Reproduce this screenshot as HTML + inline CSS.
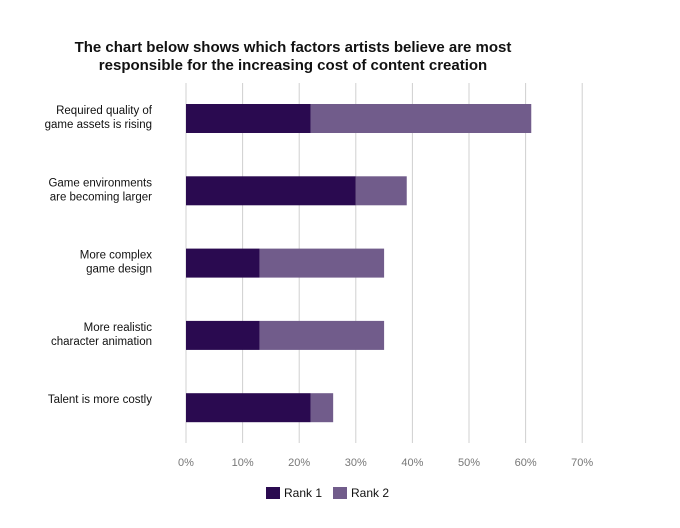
<!DOCTYPE html>
<html><head><meta charset="utf-8"><style>
body{margin:0;background:#fff;width:680px;height:523px;overflow:hidden;font-family:"Liberation Sans",sans-serif;}
svg text{font-family:"Liberation Sans",sans-serif;}
</style></head><body>
<svg width="680" height="523">
<text x="293" y="52" text-anchor="middle" font-size="15" font-weight="bold" fill="#111">The chart below shows which factors artists believe are most</text>
<text x="293" y="70" text-anchor="middle" font-size="15" font-weight="bold" fill="#111">responsible for the increasing cost of content creation</text>
<g id="grid"></g><g id="bars"></g><g id="labels"></g><g id="ticks"></g>
<rect x="266" y="487" width="14" height="12" fill="#2a0a50"/>
<text x="284" y="497" font-size="12" fill="#111">Rank 1</text>
<rect x="333" y="487" width="14" height="12" fill="#715c8b"/>
<text x="351" y="497" font-size="12" fill="#111">Rank 2</text>
</svg>
<script>
const categories=[["Required quality of","game assets is rising"],["Game environments","are becoming larger"],["More complex","game design"],["More realistic","character animation"],["Talent is more costly"]];
const rank1=[22,30,13,13,22];
const rank2=[39,9,22,22,4];
const tickLabels=["0%","10%","20%","30%","40%","50%","60%","70%"];
const tickValues=[0,10,20,30,40,50,60,70];
const NS="http://www.w3.org/2000/svg";
const x=v=>186+v*5.66;
const yTop=i=>104+i*72.3;
const bh=29;
function mk(t,a,p){const e=document.createElementNS(NS,t);for(const k in a)e.setAttribute(k,a[k]);p.appendChild(e);return e;}
const grid=document.getElementById('grid'),bars=document.getElementById('bars'),labels=document.getElementById('labels'),ticks=document.getElementById('ticks');
tickValues.forEach((v,i)=>{
 const l=mk('line',{x1:x(v),x2:x(v),y1:83,y2:443,stroke:'#d0d0d0','stroke-width':1},grid);
 
 
 const t=mk('text',{x:x(v),y:466,'text-anchor':'middle','font-size':11,fill:'#777'},ticks);
 t.textContent=tickLabels[i];
 
 
});
categories.forEach((c,i)=>{
 const y=yTop(i);
 const r1=mk('rect',{x:x(0),y:y,width:x(rank1[i])-x(0),height:bh,fill:'#2a0a50'},bars);
 
 
 const r2=mk('rect',{x:x(rank1[i]),y:y,width:x(rank1[i]+rank2[i])-x(rank1[i]),height:bh,fill:'#715c8b'},bars);
 
 
 c.forEach((line,j)=>{
  const t=mk('text',{x:152,y:y+10+j*14,'text-anchor':'end','font-size':11.5,fill:'#111'},labels);
  t.textContent=line;
  
  
 });
});
</script>
</body></html>
